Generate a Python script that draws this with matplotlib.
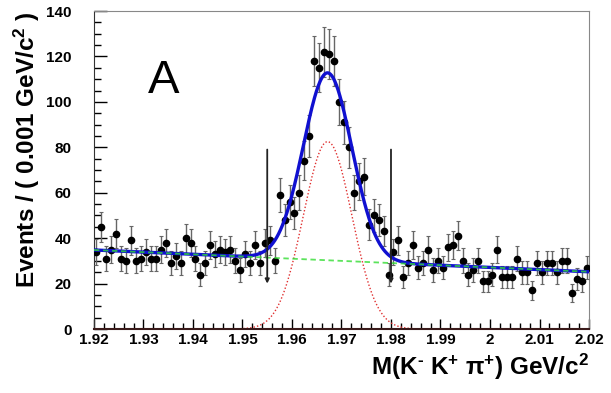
import numpy as np
import matplotlib.pyplot as plt
from matplotlib.ticker import MultipleLocator, FuncFormatter

plt.rcParams['font.family'] = ['Liberation Sans', 'DejaVu Sans']
plt.rcParams['mathtext.fontset'] = 'custom'
plt.rcParams['mathtext.rm'] = 'Liberation Sans:bold'
plt.rcParams['mathtext.it'] = 'Liberation Sans:bold'
plt.rcParams['mathtext.bf'] = 'Liberation Sans:bold'

# histogram: 100 bins of 0.001 GeV/c^2 from 1.92 to 2.02
x_lo, x_hi, bin_w = 1.92, 2.02, 0.001
counts = [34, 45, 31, 35, 42, 31, 30, 39, 30, 31,
          34, 31, 31, 35, 38, 29, 32, 29, 40, 38,
          31, 24, 29, 37, 33, 35, 34, 35, 30, 26,
          33, 29, 37, 29, 38, 39, 30, 59, 48, 56,
          51, 60, 74, 85, 118, 115, 122, 121, 118, 100,
          91, 80, 60, 65, 67, 46, 50, 48, 43, 24,
          34, 39, 23, 29, 37, 27, 29, 35, 26, 30,
          27, 36, 37, 41, 30, 24, 26, 30, 21, 21,
          24, 35, 23, 23, 23, 31, 25, 25, 17, 29,
          25, 29, 29, 25, 30, 30, 16, 22, 21, 27]

# fit result: gaussian signal + linear background
sig_mean, sig_sigma, sig_amp = 1.9672, 0.0049, 82.5
bkg_left, bkg_right = 34.8, 25.2

# signal-region markers
marker_x = [1.955, 1.98]
marker_top, marker_bottom = 79, 20

centers = x_lo + bin_w * (np.arange(len(counts)) + 0.5)
counts = np.array(counts, dtype=float)
errs = np.sqrt(counts)

xf = np.linspace(x_lo, x_hi, 800)
bkg = bkg_left + (bkg_right - bkg_left) * (xf - x_lo) / (x_hi - x_lo)
sig = sig_amp * np.exp(-0.5 * ((xf - sig_mean) / sig_sigma) ** 2)

fig = plt.figure(figsize=(6.11, 3.93), dpi=100)
fig.set_facecolor('white')
ax = fig.add_axes([0.1538, 0.1628, 0.9640 - 0.1538, 0.972 - 0.1628])

ax.errorbar(centers, counts, yerr=errs, fmt='o', color='black', ms=4.5,
            ecolor='#666666', elinewidth=1.0, capsize=1.5, capthick=0.8, zorder=3)
ax.plot(xf, sig, color='#e03030', ls=(0, (1, 1.5)), lw=1.0, zorder=2)
ax.plot(xf, sig + bkg, color='#1010d0', lw=2.4, zorder=4)
ax.plot(xf, bkg, color='#33dd33', ls=(0, (3, 2)), lw=1.3, alpha=0.8, zorder=4.5)

for mx in marker_x:
    ax.annotate('', xy=(mx, marker_bottom), xytext=(mx, marker_top),
                arrowprops=dict(arrowstyle='-|>', color='#222222', lw=1.3,
                                mutation_scale=6, shrinkA=0, shrinkB=0), zorder=5)

ax.text(1.934, 109, 'A', fontsize=34, color='black', ha='center', va='center')

ax.set_xlim(x_lo, x_hi)
ax.set_ylim(0, 140)
ax.xaxis.set_major_locator(MultipleLocator(0.01))
ax.xaxis.set_minor_locator(MultipleLocator(0.002))
ax.yaxis.set_major_locator(MultipleLocator(20))
ax.yaxis.set_minor_locator(MultipleLocator(5))
ax.xaxis.set_major_formatter(FuncFormatter(lambda v, p: ('%.2f' % v).rstrip('0').rstrip('.')))

ax.tick_params(axis='both', which='both', direction='in', top=False, right=False,
               labelsize=11, width=1.0)
ax.tick_params(axis='x', which='major', length=7, pad=3)
ax.tick_params(axis='x', which='minor', length=4)
ax.tick_params(axis='y', which='major', length=9, pad=16)
ax.tick_params(axis='y', which='minor', length=5)
for lab in ax.get_xticklabels() + ax.get_yticklabels():
    lab.set_fontweight('bold')

for s in ['top', 'right']:
    ax.spines[s].set_color('#888888')
ax.spines['bottom'].set_color('#3a1a1a')
ax.spines['bottom'].set_linewidth(1.5)
ax.spines['left'].set_color('#333333')

ax.set_xlabel('M(K$^{\\text{-}}$ K$^{+}$ π$^{+}$) GeV/c$^{2}$', fontsize=17.5, fontweight='bold',
              loc='right', labelpad=3)
ax.set_ylabel('Events / ( 0.001 GeV/c$^{2}$ )', fontsize=17.5, fontweight='bold',
              loc='top', labelpad=3)

fig.savefig('out.png', dpi=100, facecolor='white')
